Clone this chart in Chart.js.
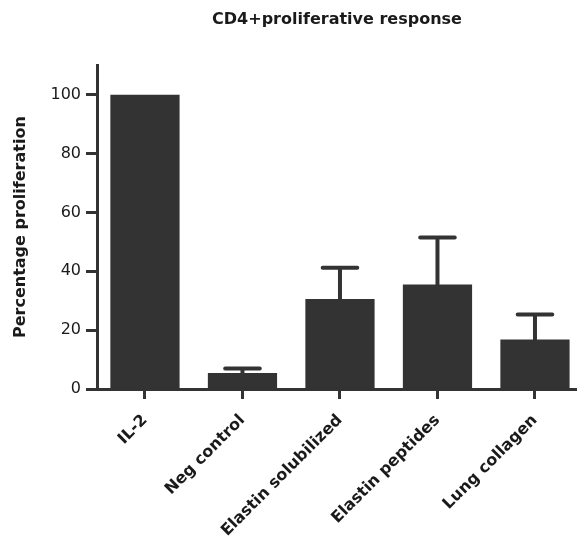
<!DOCTYPE html>
<html>
<head>
<meta charset="utf-8">
<script src="https://cdn.jsdelivr.net/npm/chart.js@4/dist/chart.umd.min.js"></script>
<style>
  html, body { margin: 0; padding: 0; background: #fff; }
  #wrap { width: 577px; height: 538px; }
</style>
</head>
<body>
<div id="wrap"><canvas id="chart"></canvas></div>
<script>
const categories = ["IL-2", "Neg control", "Elastin solubilized", "Elastin peptides", "Lung collagen"];
const means = [100, 5.4, 30.6, 35.5, 16.8];
const upperErrors = [0, 1.6, 10.6, 16.0, 8.5];
const yTicks = [0, 20, 40, 60, 80, 100];

const ink = "#333333";

// upper error bars only, drawn through the chart's scales
const errorBars = {
  id: "errorBars",
  afterDatasetsDraw(chart) {
    const ctx = chart.ctx;
    const yScale = chart.scales.y;
    const meta = chart.getDatasetMeta(0);
    ctx.save();
    ctx.strokeStyle = ink;
    ctx.lineWidth = 4;
    ctx.lineCap = "round";
    meta.data.forEach((bar, i) => {
      if (!upperErrors[i]) return;
      const x = bar.x;
      const yTop = yScale.getPixelForValue(means[i]);
      const yErr = yScale.getPixelForValue(means[i] + upperErrors[i]);
      const half = bar.width * 0.25;
      ctx.beginPath();
      ctx.moveTo(x, yTop);
      ctx.lineTo(x, yErr);
      ctx.moveTo(x - half, yErr);
      ctx.lineTo(x + half, yErr);
      ctx.stroke();
    });
    ctx.restore();
  },
};

const data = {
  datasets: [
    {
      label: "Percentage proliferation",
      data: means.map((v, i) => ({ x: i, y: v })),
      backgroundColor: ink,
      borderWidth: 0,
      barPercentage: 0.71,
      categoryPercentage: 1,
    },
  ],
};

const config = {
  type: "bar",
  data: data,
  plugins: [errorBars],
  options: {
    responsive: true,
    maintainAspectRatio: false,
    animation: false,
    layout: { padding: 0 },
    plugins: {
      legend: { display: false },
      tooltip: { enabled: false },
      title: {
        display: true,
        fullSize: false,
        text: "CD4+proliferative response",
        color: "#1a1a1a",
        font: { family: "DejaVu Sans", size: 16, weight: "bold" },
        padding: { top: 10, bottom: 36 },
      },
    },
    scales: {
      x: {
        type: "linear",
        min: -0.492,
        max: 4.431,
        offset: false,
        border: { display: true, color: ink, width: 3 },
        grid: {
          display: true,
          offset: false,
          drawOnChartArea: false,
          drawTicks: true,
          tickLength: 10,
          tickWidth: 3,
          tickColor: ink,
        },
        ticks: {
          color: "#1a1a1a",
          minRotation: 45,
          maxRotation: 45,
          padding: 12,
          font: { family: "DejaVu Sans", size: 16, weight: "bold" },
          callback: (v) => categories[v],
        },
        afterBuildTicks(scale) {
          scale.ticks = categories.map((c, i) => ({ value: i }));
        },
        afterFit(scale) {
          scale.height = 149;
        },
      },
      y: {
        min: 0,
        max: 110,
        border: { display: true, color: ink, width: 3 },
        grid: {
          display: true,
          drawOnChartArea: false,
          drawTicks: true,
          tickLength: 11,
          tickWidth: 3,
          tickColor: ink,
        },
        ticks: {
          stepSize: 20,
          color: "#1a1a1a",
          padding: 5,
          font: { family: "DejaVu Sans", size: 16 },
        },
        afterBuildTicks(scale) {
          scale.ticks = yTicks.map((v) => ({ value: v }));
        },
        title: {
          display: true,
          text: "Percentage proliferation",
          color: "#1a1a1a",
          font: { family: "DejaVu Sans", size: 16, weight: "bold" },
          padding: { top: 11, bottom: 0 },
        },
        afterFit(scale) {
          scale.width = 97;
        },
      },
    },
  },
};

const ctx = document.getElementById("chart").getContext("2d");
const chart = new Chart(ctx, config);
</script>
</body>
</html>
